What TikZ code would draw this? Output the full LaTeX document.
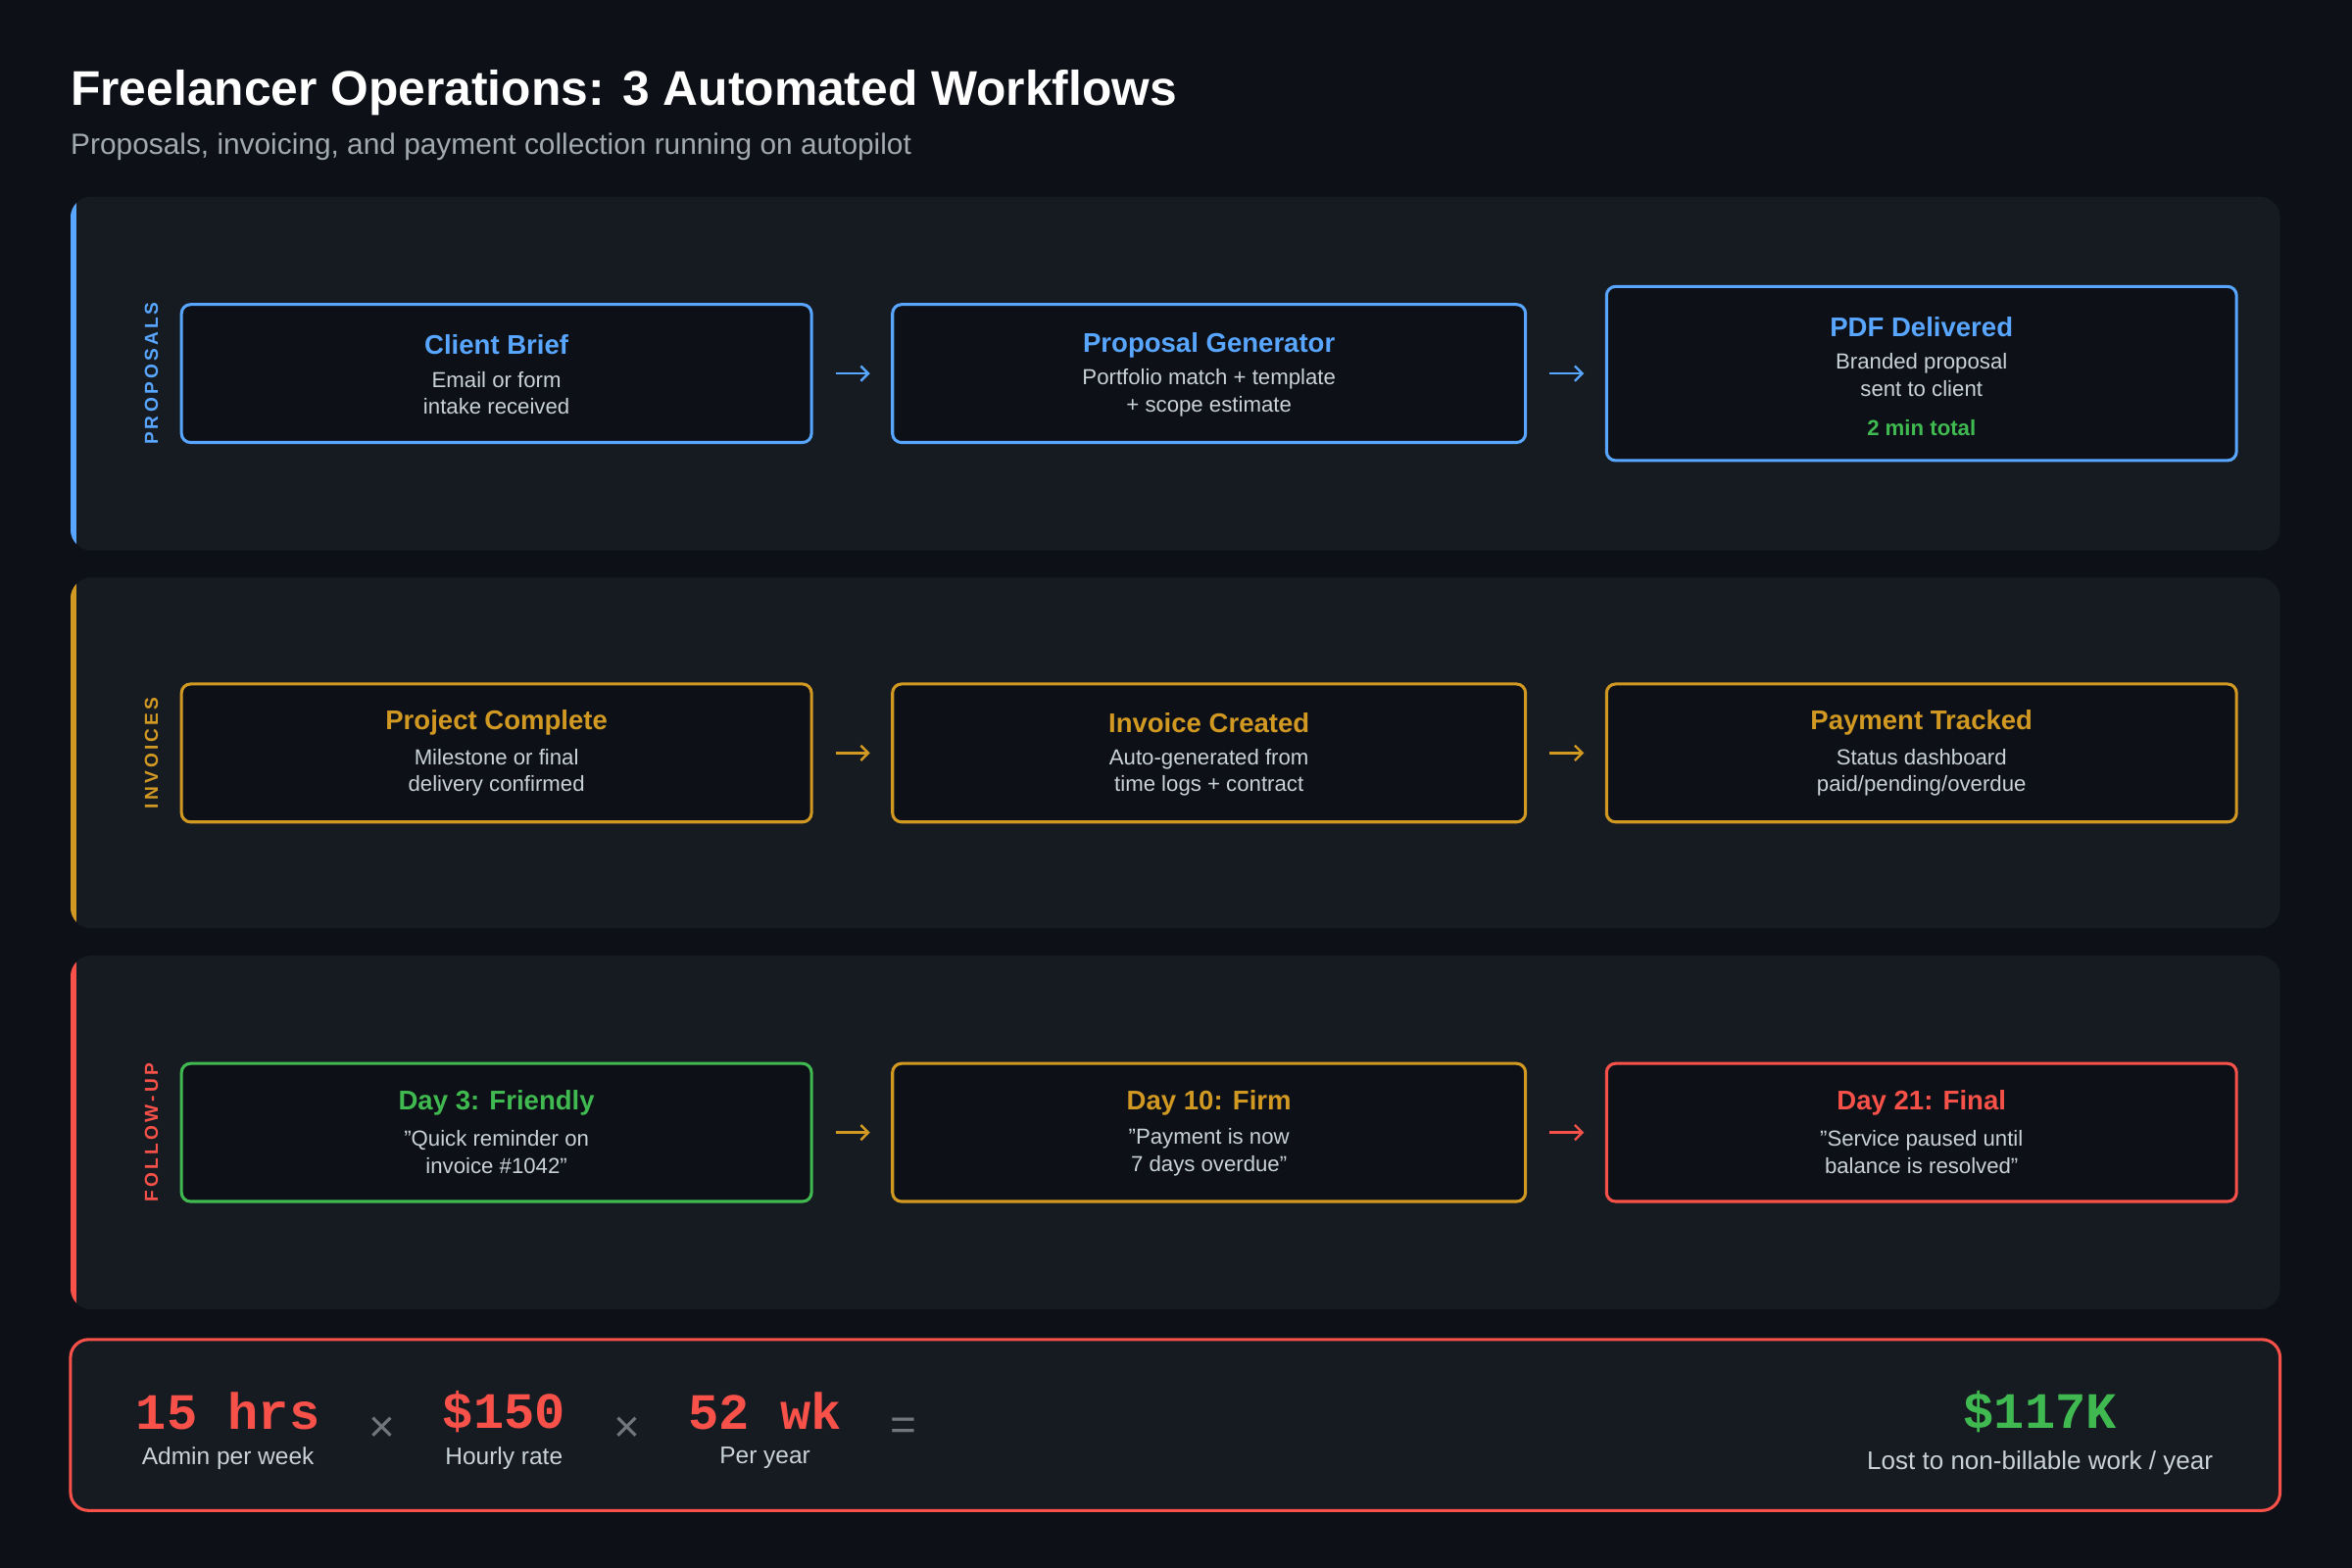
\documentclass[tikz,border=0pt]{standalone}
\usepackage{fontspec}
\setmainfont{Liberation Sans}
\newfontfamily\monof{Liberation Mono}
\usetikzlibrary{arrows.meta}
\definecolor{bg}{HTML}{0D1117}
\definecolor{panel}{HTML}{161B22}
\definecolor{cblue}{HTML}{58A6FF}
\definecolor{corange}{HTML}{D29922}
\definecolor{cred}{HTML}{F85149}
\definecolor{cgreen}{HTML}{3FB950}
\definecolor{ctext}{HTML}{C9D1D9}
\definecolor{cgray}{HTML}{8B949E}
\newcommand{\dq}{\symbol{34}}
\begin{document}
\begin{tikzpicture}[x=1pt,y=-1pt,
  stepbox/.style={draw=#1,line width=2pt,fill=bg,rounded corners=6pt},
  ttl/.style={font=\fontsize{18}{20}\selectfont\bfseries,text=#1},
  sub/.style={font=\fontsize{14.5}{18}\selectfont,text=ctext,align=center},
  vlab/.style={rotate=90,font=\fontsize{12.5}{14}\selectfont\bfseries,text=#1},
  arr/.style={->,line width=1.6pt,draw=#1,>={Straight Barb[length=5pt,width=10pt]}},
  big/.style={font=\fontsize{34}{36}\selectfont\monof\bfseries,text=#1},
  lab/.style={font=\fontsize{16}{18}\selectfont,text=ctext},
  op/.style={font=\fontsize{30}{30}\selectfont,text=cgray!80!black}]
\fill[bg] (0,0) rectangle (1568,1045.3);
\useasboundingbox (0,0) rectangle (1568,1045.3);
\node[anchor=base west,inner sep=0pt,font=\fontsize{32.5}{34}\selectfont\bfseries,text=white] (title) at (47,70) {Freelancer Operations: 3 Automated Workflows};
\node[anchor=base west,inner sep=0pt,font=\fontsize{19.5}{22}\selectfont,text=cgray!80!white] (subt) at (47,103) {Proposals, invoicing, and payment collection running on autopilot};
% panels
\foreach \t/\b/\c in {131/367/cblue,385/619/corange,637/873/cred}{
  \fill[panel,rounded corners=14pt] (47,\t) rectangle (1520,\b);
  \begin{scope}
  \clip[rounded corners=14pt] (47,\t) rectangle (1520,\b);
  \fill[\c] (47,\t) rectangle (51,\b);
  \end{scope}
}
\node[vlab=cblue] (v1) at (101,249) {P\,R\,O\,P\,O\,S\,A\,L\,S};
\node[vlab=corange] (v2) at (101,502) {I\,N\,V\,O\,I\,C\,E\,S};
\node[vlab=cred] (v3) at (101,755) {F\,O\,L\,L\,O\,W\,-\,U\,P};
% row 1
\draw[stepbox=cblue] (121,203) rectangle (541,295);
\draw[stepbox=cblue] (595,203) rectangle (1017,295);
\draw[stepbox=cblue] (1071,191) rectangle (1491,307);
\node[ttl=cblue] (t11) at (331,230) {Client Brief};
\node[sub] (s11) at (331,262) {Email or form\\intake received};
\node[ttl=cblue] (t12) at (806,230) {Proposal Generator};
\node[sub] (s12) at (806,262) {Portfolio match + template\\+ scope estimate};
\node[ttl=cblue] (t13) at (1281,218) {PDF Delivered};
\node[sub] (s13) at (1281,250) {Branded proposal\\sent to client};
\node[font=\fontsize{14.5}{16}\selectfont\bfseries,text=cgreen] (g13) at (1281,285) {2 min total};
\draw[arr=cblue] (557,249) -- (580,249);
\draw[arr=cblue] (1033,249) -- (1056,249);
% row 2
\draw[stepbox=corange] (121,456) rectangle (541,548);
\draw[stepbox=corange] (595,456) rectangle (1017,548);
\draw[stepbox=corange] (1071,456) rectangle (1491,548);
\node[ttl=corange] (t21) at (331,482) {Project Complete};
\node[sub] (s21) at (331,515) {Milestone or final\\delivery confirmed};
\node[ttl=corange] (t22) at (806,482) {Invoice Created};
\node[sub] (s22) at (806,515) {Auto-generated from\\time logs + contract};
\node[ttl=corange] (t23) at (1281,482) {Payment Tracked};
\node[sub] (s23) at (1281,515) {Status dashboard\\paid/pending/overdue};
\draw[arr=corange] (557,502) -- (580,502);
\draw[arr=corange] (1033,502) -- (1056,502);
% row 3
\draw[stepbox=cgreen] (121,709) rectangle (541,801);
\draw[stepbox=corange] (595,709) rectangle (1017,801);
\draw[stepbox=cred] (1071,709) rectangle (1491,801);
\node[ttl=cgreen] (t31) at (331,735) {Day 3: Friendly};
\node[sub] (s31) at (331,768) {\dq Quick reminder on\\invoice \#1042\dq};
\node[ttl=corange] (t32) at (806,735) {Day 10: Firm};
\node[sub] (s32) at (806,768) {\dq Payment is now\\7 days overdue\dq};
\node[ttl=cred] (t33) at (1281,735) {Day 21: Final};
\node[sub] (s33) at (1281,768) {\dq Service paused until\\balance is resolved\dq};
\draw[arr=corange] (557,755) -- (580,755);
\draw[arr=cred] (1033,755) -- (1056,755);
% bottom
\draw[draw=cred,line width=2pt,fill=panel,rounded corners=12pt] (47,893) rectangle (1520,1007);
\node[big=cred] (n1) at (152,941) {15 hrs};
\node[lab] (l1) at (152,972) {Admin per week};
\node[op] (x1) at (255,953) {×};
\node[big=cred] (n2) at (336,941) {\$150};
\node[lab] (l2) at (336,972) {Hourly rate};
\node[op] (x2) at (418,953) {×};
\node[big=cred] (n3) at (510,941) {52 wk};
\node[lab] (l3) at (510,972) {Per year};
\node[op] (x3) at (602,953) {=};
\node[big=cgreen] (n4) at (1360,941) {\$117K};
\node[lab,font=\fontsize{17}{19}\selectfont] (l4) at (1360,975) {Lost to non-billable work / year};
\end{tikzpicture}
\end{document}
